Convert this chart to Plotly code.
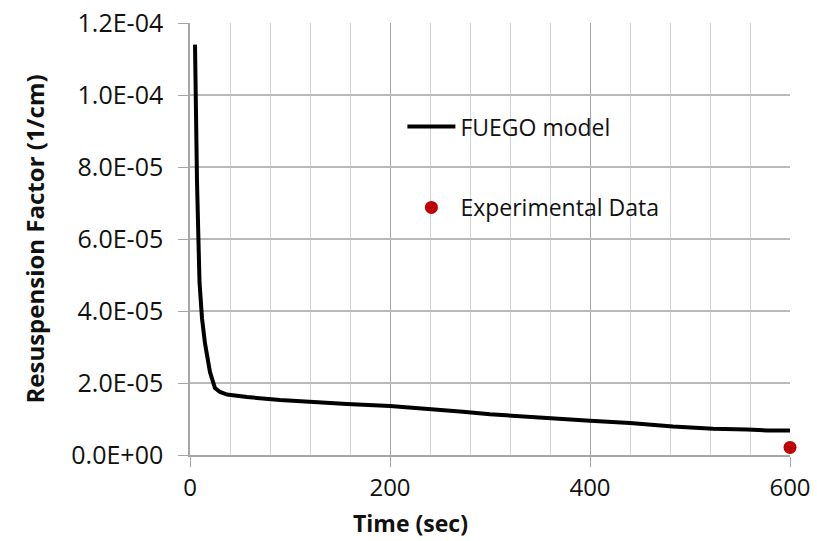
import plotly.graph_objects as go

# Data
time_s = [5, 7, 9.5, 12, 15, 20, 25, 30, 37, 57, 90, 123, 157, 200, 240, 273, 300,
          323, 357, 400, 440, 483, 523, 557, 577, 600]
fuego = [1.14e-4, 7.6e-5, 4.8e-5, 3.8e-5, 3.1e-5, 2.3e-5, 1.86e-5, 1.75e-5, 1.68e-5,
         1.61e-5, 1.53e-5, 1.47e-5, 1.42e-5, 1.36e-5, 1.28e-5, 1.2e-5, 1.13e-5,
         1.1e-5, 1.03e-5, 9.5e-6, 8.9e-6, 7.9e-6, 7.3e-6, 7.1e-6, 6.8e-6, 6.8e-6]
exp_time = [600]
exp_val = [2.1e-6]

y_ticks = [0, 2e-5, 4e-5, 6e-5, 8e-5, 1e-4, 1.2e-4]
y_tick_text = ["0.0E+00", "2.0E-05", "4.0E-05", "6.0E-05", "8.0E-05", "1.0E-04", "1.2E-04"]
x_ticks = [0, 200, 400, 600]

FONT = "Open Sans"
TXT = "#111111"

fig = go.Figure()
fig.add_trace(go.Scatter(x=time_s, y=fuego, mode="lines", name="FUEGO model",
                         line=dict(color="black", width=4), legendgroup="a"))
fig.add_trace(go.Scatter(x=exp_time, y=exp_val, mode="markers", name="Experimental Data",
                         marker=dict(color="#C00000", size=13), legendgroup="b",
                         cliponaxis=False))

fig.update_layout(
    width=817, height=541,
    margin=dict(l=190, r=27, t=23, b=86, autoexpand=False),
    paper_bgcolor="white", plot_bgcolor="white",
    font=dict(family=FONT, size=24, color=TXT),
    showlegend=True,
    legend=dict(x=0.354, y=0.81, xanchor="left", yanchor="top",
                bgcolor="rgba(0,0,0,0)", borderwidth=0, traceorder="grouped",
                tracegroupgap=48, itemwidth=48,
                font=dict(family=FONT, size=23, color=TXT)),
)

# white background panel behind the legend (covers gridlines, below traces)
fig.add_shape(type="rect", xref="paper", yref="paper",
              x0=0.35, x1=0.877, y0=0.484, y1=0.85,
              fillcolor="white", line=dict(width=0), layer="between")

fig.update_xaxes(
    range=[0, 600], tickvals=x_ticks, showgrid=True, gridcolor="#a6a6a6", gridwidth=1,
    minor=dict(dtick=40, showgrid=True, gridcolor="#d0d0d0", gridwidth=1),
    showline=True, linecolor="#a6a6a6", linewidth=1.5, ticks="outside", ticklen=10,
    tickcolor="#a6a6a6", zeroline=False, mirror=False, automargin=False,
    tickfont=dict(size=24),
)
fig.update_yaxes(
    range=[0, 1.2e-4], tickvals=y_ticks, ticktext=y_tick_text, showgrid=True,
    gridcolor="#b8b8b8", gridwidth=1.5, automargin=False,
    showline=True, linecolor="#a6a6a6", linewidth=1.5, ticks="outside", ticklen=10,
    tickcolor="#a6a6a6", zeroline=False, ticklabelstandoff=10,
    title=dict(text="<b>Resuspension Factor (1/cm)</b>", font=dict(size=24), standoff=20),
    tickfont=dict(size=25),
)

fig.add_annotation(text="<b>Time (sec)</b>", xref="paper", yref="paper", x=0.367, y=0,
                   yshift=-68, xanchor="center", yanchor="middle", showarrow=False,
                   font=dict(size=23, family=FONT, color=TXT))

fig.write_html("out.html")
